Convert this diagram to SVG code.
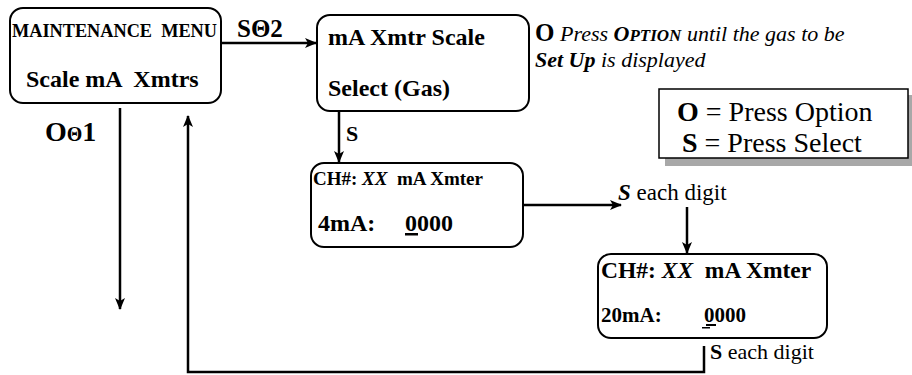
<svg xmlns="http://www.w3.org/2000/svg" width="912" height="375" viewBox="0 0 912 375" font-family="Liberation Serif, DejaVu Serif, serif">
<defs>
<marker id="ah" viewBox="0 0 12 10" refX="11" refY="5" markerWidth="12" markerHeight="10" markerUnits="userSpaceOnUse" orient="auto">
<path d="M0,0 L12,5 L0,10 L3,5 z" fill="#000"/>
</marker>
<style>
.box{fill:#fff;stroke:#000;stroke-width:2}
.t{fill:#000}
.b{font-weight:bold}
.i{font-style:italic}
.c{fill:none;stroke:#000;stroke-width:2.5}
</style>
</defs>
<rect x="0" y="0" width="912" height="375" fill="#fff"/>

<g id="connectors">
<line class="c" x1="221" y1="43" x2="316" y2="43" marker-end="url(#ah)"/>
<line class="c" x1="339" y1="111" x2="339" y2="162" marker-end="url(#ah)"/>
<line class="c" x1="524" y1="205" x2="621" y2="205" marker-end="url(#ah)"/>
<line class="c" x1="687" y1="207" x2="687" y2="253" marker-end="url(#ah)"/>
<line class="c" x1="120" y1="108" x2="120" y2="309" marker-end="url(#ah)"/>
<polyline class="c" points="704,346 704,372 188,372 188,116" marker-end="url(#ah)"/>
<text class="t b" x="237" y="37" font-size="25">SΘ2</text>
<text class="t b" x="346" y="141" font-size="22">S</text>
<text class="t" x="618" y="200" font-size="23"><tspan class="b i">S</tspan> each digit</text>
<text class="t" x="710" y="359" font-size="22"><tspan class="b">S</tspan> each digit</text>
<text class="t b" x="45" y="141" font-size="28">O<tspan font-size="20">Θ</tspan>1</text>
</g>

<g id="maintenance-menu">
<rect class="box" x="10" y="8" width="211" height="95" rx="13"/>
<text class="t b" x="12" y="37" font-size="18" textLength="205" lengthAdjust="spacingAndGlyphs" xml:space="preserve">MAINTENANCE  MENU</text>
<text class="t b" x="26" y="87" font-size="24" xml:space="preserve">Scale mA  Xmtrs</text>
</g>

<g id="xmtr-scale">
<rect class="box" x="317" y="15" width="212" height="96" rx="13"/>
<text class="t b" x="328" y="45" font-size="24">mA Xmtr Scale</text>
<text class="t b" x="328" y="96" font-size="24">Select (Gas)</text>
</g>

<g id="note">
<text class="t" x="535" y="41" font-size="22"><tspan class="b" font-size="25">O</tspan><tspan class="i"> Press </tspan><tspan class="b i">O<tspan font-size="17">PTION</tspan></tspan><tspan class="i"> until the gas to be</tspan></text>
<text class="t i" x="535" y="67" font-size="22"><tspan class="b">Set Up</tspan> is displayed</text>
</g>

<g id="legend">
<rect x="665" y="95" width="252" height="71" fill="#a8a8a8"/>
<rect x="659" y="89" width="249" height="69" fill="#fff" stroke="#000" stroke-width="1.5"/>
<text class="t" x="677" y="121" font-size="28" xml:space="preserve"><tspan class="b">O</tspan> = Press Option</text>
<text class="t" x="682" y="152" font-size="28" xml:space="preserve"><tspan class="b">S</tspan> = Press Select</text>
</g>

<g id="ch-4ma">
<rect class="box" x="311" y="163" width="212" height="84" rx="13"/>
<text class="t b" x="313" y="185" font-size="19" xml:space="preserve">CH#: <tspan class="i">XX</tspan>  mA Xmter</text>
<text class="t b" x="318" y="231" font-size="24">4mA:</text>
<text class="t b" x="405" y="231" font-size="24">0000</text>
<rect x="405" y="233" width="13" height="2.5" fill="#000"/>
</g>

<g id="ch-20ma">
<rect class="box" x="598" y="254" width="229" height="84" rx="13"/>
<text class="t b" x="601" y="278" font-size="23.5" xml:space="preserve">CH#: <tspan class="i">XX</tspan>  mA Xmter</text>
<text class="t b" x="601" y="322" font-size="21">20mA:</text>
<text class="t b" x="704" y="322" font-size="21">0000</text>
<rect x="706" y="324" width="10" height="2" fill="#000"/>
<rect x="702" y="327" width="8" height="1.5" fill="#000"/>
</g>
</svg>
